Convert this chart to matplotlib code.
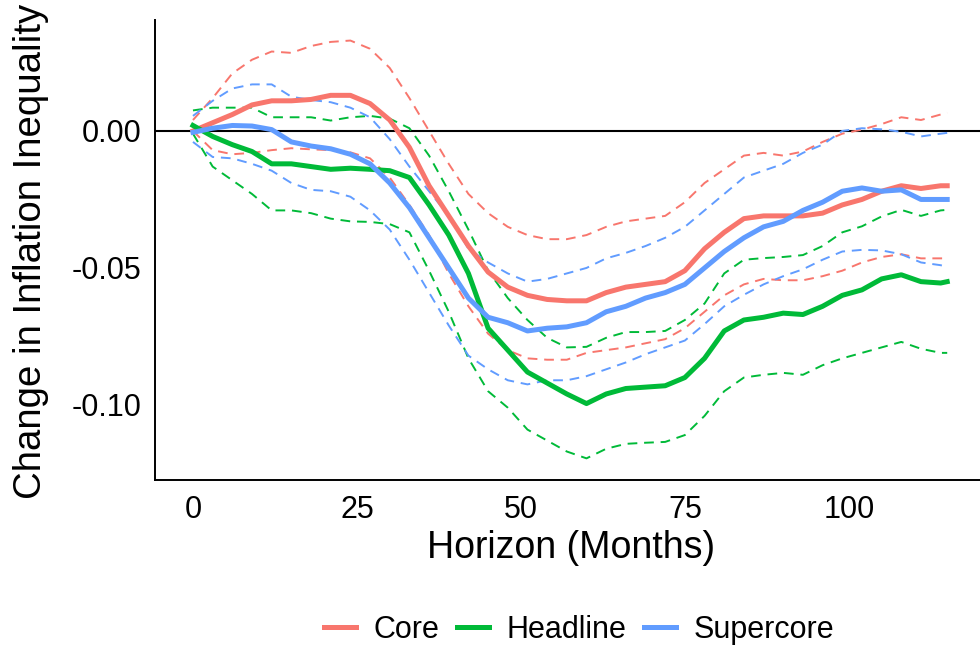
import matplotlib
matplotlib.use("Agg")
import matplotlib.pyplot as plt
from matplotlib.lines import Line2D

plt.rcParams['font.family'] = ['Liberation Sans', 'DejaVu Sans']

horizon = [0, 3, 6, 9, 12, 15, 18, 21, 24, 27, 30, 33, 36, 39, 42, 45, 48, 51, 54, 57,
           60, 63, 66, 69, 72, 75, 78, 81, 84, 87, 90, 93, 96, 99, 102, 105, 108, 111, 114, 115]

core = [0.000, 0.003, 0.006, 0.0095, 0.011, 0.011, 0.0115, 0.013, 0.013, 0.010,
        0.004, -0.006, -0.020, -0.031, -0.042, -0.0515, -0.057, -0.060, -0.0615, -0.062,
        -0.062, -0.059, -0.057, -0.056, -0.055, -0.051, -0.043, -0.037, -0.032, -0.031,
        -0.031, -0.031, -0.030, -0.027, -0.025, -0.022, -0.020, -0.021, -0.020, -0.020]
core_hi = [0.004, 0.012, 0.021, 0.026, 0.029, 0.0285, 0.031, 0.0325, 0.033, 0.030,
           0.023, 0.012, 0.000, -0.012, -0.023, -0.030, -0.035, -0.038, -0.0395, -0.0395,
           -0.038, -0.035, -0.033, -0.032, -0.031, -0.026, -0.019, -0.014, -0.009, -0.008,
           -0.009, -0.0075, -0.004, -0.001, 0.0005, 0.0025, 0.005, 0.004, 0.006, 0.0066]
core_lo = [0.000, -0.007, -0.0085, -0.008, -0.007, -0.0063, -0.0067, -0.007, -0.0078, -0.010,
           -0.017, -0.027, -0.038, -0.052, -0.064, -0.074, -0.080, -0.083, -0.0835, -0.0835,
           -0.081, -0.080, -0.079, -0.0775, -0.076, -0.072, -0.066, -0.060, -0.056, -0.054,
           -0.0545, -0.0545, -0.053, -0.051, -0.048, -0.046, -0.045, -0.0465, -0.0465, -0.0465]

headline = [0.002, -0.002, -0.005, -0.0075, -0.012, -0.012, -0.013, -0.014, -0.0136, -0.014,
            -0.0145, -0.017, -0.027, -0.038, -0.052, -0.072, -0.080, -0.088, -0.092, -0.096,
            -0.0995, -0.096, -0.094, -0.0935, -0.093, -0.090, -0.083, -0.073, -0.069, -0.068,
            -0.0665, -0.067, -0.064, -0.060, -0.058, -0.054, -0.0525, -0.055, -0.0555, -0.055]
headline_hi = [0.0075, 0.0085, 0.0085, 0.0085, 0.005, 0.005, 0.005, 0.0038, 0.005, 0.0055,
               0.0045, 0.001, -0.009, -0.022, -0.036, -0.051, -0.061, -0.069, -0.0755, -0.079,
               -0.0788, -0.0755, -0.0734, -0.0734, -0.073, -0.069, -0.063, -0.052, -0.047, -0.0464,
               -0.046, -0.0453, -0.042, -0.037, -0.0348, -0.0312, -0.0288, -0.031, -0.029, -0.0288]
headline_lo = [-0.001, -0.013, -0.018, -0.023, -0.029, -0.029, -0.030, -0.032, -0.033, -0.0332,
               -0.034, -0.037, -0.051, -0.066, -0.083, -0.095, -0.101, -0.109, -0.113, -0.117,
               -0.1195, -0.116, -0.1142, -0.1138, -0.1135, -0.111, -0.104, -0.095, -0.090, -0.089,
               -0.0883, -0.089, -0.0855, -0.083, -0.081, -0.079, -0.077, -0.0795, -0.081, -0.081]

supercore = [-0.0005, 0.001, 0.002, 0.0018, 0.0005, -0.004, -0.0055, -0.0065, -0.0085, -0.012,
             -0.019, -0.028, -0.039, -0.050, -0.061, -0.068, -0.070, -0.073, -0.072, -0.0715,
             -0.070, -0.066, -0.064, -0.061, -0.059, -0.056, -0.050, -0.044, -0.039, -0.035,
             -0.033, -0.029, -0.026, -0.022, -0.0208, -0.022, -0.0215, -0.025, -0.025, -0.025]
supercore_hi = [0.0055, 0.011, 0.0155, 0.017, 0.017, 0.0125, 0.0113, 0.0105, 0.0085, 0.005,
                -0.003, -0.013, -0.022, -0.031, -0.043, -0.048, -0.052, -0.055, -0.054, -0.052,
                -0.050, -0.0465, -0.0445, -0.042, -0.039, -0.035, -0.029, -0.023, -0.017, -0.0145,
                -0.012, -0.008, -0.005, 0.000, 0.001, 0.0006, -0.0003, -0.002, -0.001, -0.0007]
supercore_lo = [-0.004, -0.0095, -0.010, -0.012, -0.0145, -0.019, -0.0215, -0.022, -0.024, -0.029,
                -0.036, -0.047, -0.059, -0.071, -0.082, -0.087, -0.091, -0.0925, -0.091, -0.091,
                -0.0895, -0.087, -0.0845, -0.0815, -0.079, -0.0765, -0.0705, -0.064, -0.0598, -0.056,
                -0.053, -0.0505, -0.047, -0.044, -0.0434, -0.0436, -0.045, -0.048, -0.049, -0.0496]

labels = ["Core", "Headline", "Supercore"]
colors = ["#F8766D", "#00BA38", "#619CFF"]
x_ticks = [0, 25, 50, 75, 100]
y_ticks = [0.00, -0.05, -0.10]
y_ticklabels = ["0.00", "-0.05", "-0.10"]

W, H = 980, 645
fig = plt.figure(figsize=(W / 100, H / 100), dpi=100)
ax = fig.add_axes([155 / W, 1 - 480 / H, (W - 155) / W, (480 - 20) / H])

ax.axhline(0, color="black", lw=1.5, zorder=1)

series = [(core, core_lo, core_hi), (headline, headline_lo, headline_hi),
          (supercore, supercore_lo, supercore_hi)]
for (mid, lo, hi), c in zip(series, colors):
    ax.plot(horizon, lo, color=c, lw=1.4, ls=(0, (5, 3.5)), zorder=2)
    ax.plot(horizon, hi, color=c, lw=1.4, ls=(0, (5, 3.5)), zorder=2)
for (mid, lo, hi), c in zip(series, colors):
    ax.plot(horizon, mid, color=c, lw=3.6, zorder=3, solid_joinstyle="round")

ax.set_xlim(-5.79, 120.0)
ax.set_ylim(-0.1274, 0.0405)
ax.set_xticks(x_ticks)
ax.set_xticklabels([str(t) for t in x_ticks])
ax.set_yticks(y_ticks)
ax.set_yticklabels(y_ticklabels)
ax.tick_params(length=0, labelsize=22, colors="black")
ax.tick_params(axis="y", pad=9.5)
ax.tick_params(axis="x", pad=11)
for s in ["top", "right"]:
    ax.spines[s].set_visible(False)
for s in ["left", "bottom"]:
    ax.spines[s].set_linewidth(1.4)
    ax.spines[s].set_color("black")

fig.text(571 / W, 1 - 548 / H, "Horizon (Months)", ha="center", va="center", fontsize=27)
fig.text(31 / W, 1 - 251 / H, "Change in Inflation Inequality", ha="center", va="center",
         rotation=90, fontsize=27.6)

handles = [Line2D([], [], color=c, lw=3.6) for c in colors]
fig.legend(handles, labels, loc="center", bbox_to_anchor=(579 / W, 1 - 630 / H), ncol=3,
           frameon=False, fontsize=22, handlelength=1.05, handletextpad=0.55,
           columnspacing=0.6, borderpad=0)

fig.savefig("out.png", dpi=100)
